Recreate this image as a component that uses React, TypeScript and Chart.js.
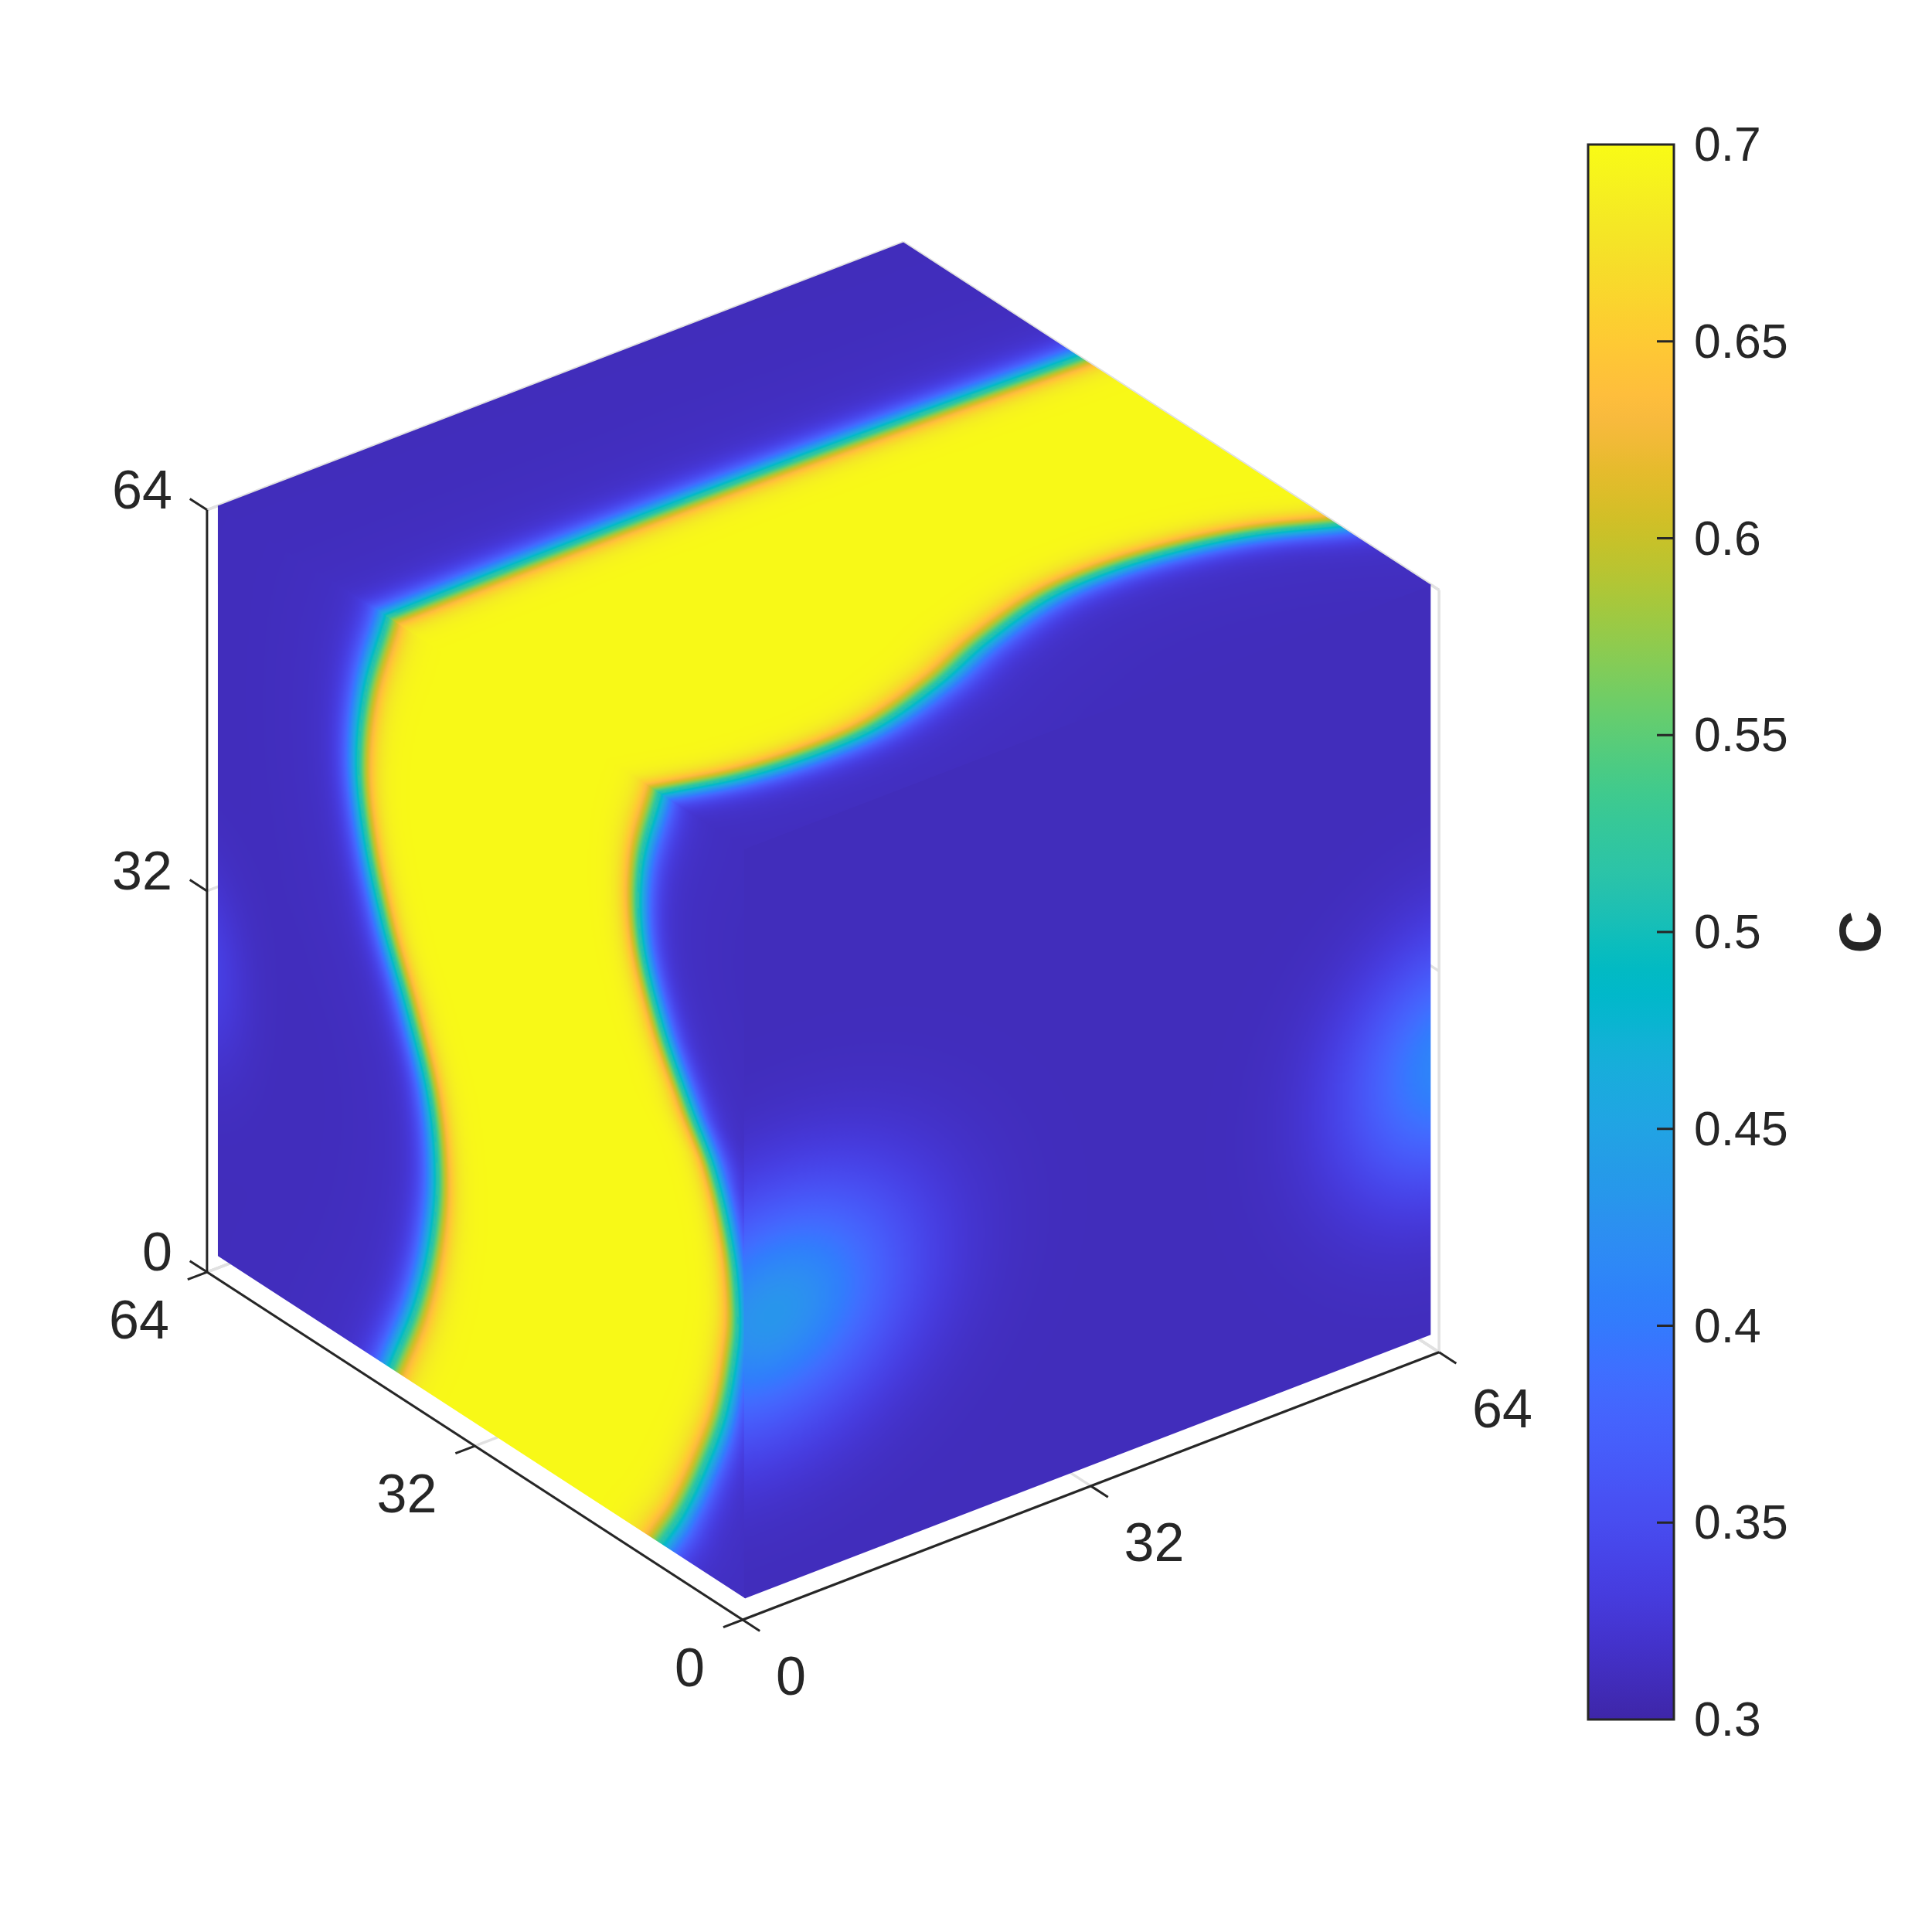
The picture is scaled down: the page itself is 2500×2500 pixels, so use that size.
import React, { useEffect, useRef } from "react";
import { Chart, registerables } from "chart.js";

Chart.register(...registerables);

// ---- Data ----
const axisTicks = [0, 32, 64];
const axisTickLabels = ["0", "32", "64"];
const colorbarTicks = [0.3, 0.35, 0.4, 0.45, 0.5, 0.55, 0.6, 0.65, 0.7];
const colorbarTitle = "C";

// x = 1 face: the yellow band between two interfaces, as y position for each z
const leftFaceZLow = [1.1, 4.5, 9.2, 15.2, 21.5, 24.8, 29.5, 35.2, 39.25, 44.6, 50.8, 56.9, 64];
const leftFaceYLow = [11, 8.7, 6.2, 3.6, 2.1, 1.9, 2.6, 4.8, 7.7, 11.1, 13.5, 13.5, 11.2];
const leftFaceZHigh = [1.3, 7.6, 13.6, 19.6, 25.9, 32, 37.95, 44.2, 50, 56.6, 64];
const leftFaceYHigh = [43.2, 40.3, 38.5, 37.8, 38.66, 41.16, 44.1, 46.3, 47.2, 46.3, 43.67];

// z = 64 face: the same band, as y position for each x
const topFaceXLow = [1, 7, 13.3, 19.3, 26.7, 33.3, 40.7, 46.7, 52.9, 58.5, 64];
const topFaceYLow = [11.2, 9.5, 8.86, 9.26, 11.5, 14.3, 16.55, 16.95, 16.2, 14.65, 12];
const topFaceXHigh = [1, 16.4, 33.4, 50, 64];
const topFaceYHigh = [43.7, 43.9, 43.8, 43.4, 42.9];

// diffuse spots: [centre u, centre v, rise of C, spread u, spread v]
const rightFaceSpots = [
  [3.6, 24, 0.122, 8.5, 7],
  [66, 23.4, 0.105, 6.8, 7],
];
const leftFaceSpots = [[66, 24.7, 0.03, 3.5, 5.5]];

const phaseLow = 0.31;
const phaseHigh = 0.698;

const parula = [
  [.2422,.1504,.6603],[.2504,.165,.7076],[.2578,.1818,.7511],[.2647,.1978,.7952],[.2706,.2147,.8364],[.2751,.2342,.871],
  [.2783,.2559,.8991],[.2803,.2782,.9221],[.2813,.3006,.9414],[.281,.3228,.9579],[.2795,.3447,.9717],[.276,.3667,.9829],
  [.2699,.3892,.9906],[.2602,.4123,.9952],[.244,.4358,.9988],[.2206,.4603,.9973],[.1963,.4847,.9892],[.1834,.5074,.9798],
  [.1786,.5289,.9682],[.1764,.5499,.952],[.1687,.5703,.9359],[.154,.5902,.9218],[.146,.6091,.9079],[.138,.6276,.8973],
  [.1248,.6459,.8883],[.1113,.6635,.8763],[.0952,.6798,.8598],[.0689,.6948,.8394],[.0297,.7082,.8163],[.0036,.7203,.7917],
  [.0067,.7312,.766],[.0433,.7411,.7394],[.0964,.75,.712],[.1408,.7584,.6842],[.1717,.767,.6554],[.1938,.7758,.6251],
  [.2161,.7843,.5923],[.247,.7918,.5567],[.2906,.7973,.5188],[.3406,.8008,.4789],[.3909,.8029,.4354],[.4456,.8024,.3909],
  [.5044,.7993,.348],[.5616,.7942,.3045],[.6174,.7876,.2612],[.672,.7793,.2227],[.7242,.7698,.191],[.7738,.7598,.1646],
  [.8203,.7498,.1535],[.8634,.7406,.1596],[.9035,.733,.1774],[.9393,.7288,.21],[.9728,.7298,.2394],[.9956,.7434,.2371],
  [.997,.7659,.2199],[.9952,.7893,.2028],[.9892,.8136,.1885],[.9786,.8386,.1766],[.9676,.8639,.1643],[.961,.889,.1537],
  [.9597,.9135,.1423],[.9628,.9373,.1265],[.9691,.9606,.1064],[.9769,.9839,.0805],
];

// ---- Styles and view ----
const INK = "#262626";
const GRID = "#e1e1e1";
const FONT = '"Liberation Sans", Arial, sans-serif';
const VIEW = { ox: 961, oy: 2096, xx: 14.08, xy: -5.41, yx: -10.83, yy: -7.03, zy: -15.41 };
const RES = 420;
const FACE_LO = 0.9;
const FACE_HI = 64.1;
const INTERFACE_WIDTH = 1.85;

const cmin = 0.3, cmax = 0.7;
const along = (k: number) => FACE_LO + ((k + 0.5) / RES) * (FACE_HI - FACE_LO);

function rgbFor(c: number) {
  const t = Math.max(0, Math.min(1, (c - cmin) / (cmax - cmin))) * (parula.length - 1);
  const i = Math.min(parula.length - 2, Math.floor(t));
  const f = t - i;
  const a = parula[i], b = parula[i + 1];
  return [0, 1, 2].map((k) => Math.round(255 * (a[k] + (b[k] - a[k]) * f)));
}

function project(x: number, y: number, z: number) {
  return {
    x: VIEW.ox + VIEW.xx * x + VIEW.yx * y,
    y: VIEW.oy + VIEW.xy * x + VIEW.yy * y + VIEW.zy * z,
  };
}

// Smooth curve through the read points: position and slope factor
function curveTable(ts: number[], vs: number[]) {
  const n = ts.length;
  const m = ts.map((_, i) => {
    if (i === 0) return (vs[1] - vs[0]) / (ts[1] - ts[0]);
    if (i === n - 1) return (vs[n - 1] - vs[n - 2]) / (ts[n - 1] - ts[n - 2]);
    return (vs[i + 1] - vs[i - 1]) / (ts[i + 1] - ts[i - 1]);
  });
  const at = (t: number) => {
    if (t <= ts[0]) return vs[0] + (t - ts[0]) * m[0];
    if (t >= ts[n - 1]) return vs[n - 1] + (t - ts[n - 1]) * m[n - 1];
    let i = 0;
    while (t > ts[i + 1]) i++;
    const h = ts[i + 1] - ts[i], s = (t - ts[i]) / h;
    const s2 = s * s, s3 = s2 * s;
    return (2 * s3 - 3 * s2 + 1) * vs[i] + (s3 - 2 * s2 + s) * h * m[i] + (-2 * s3 + 3 * s2) * vs[i + 1] + (s3 - s2) * h * m[i + 1];
  };
  return (t: number) => {
    const v = at(t);
    const d = (at(t + 0.2) - at(t - 0.2)) / 0.4;
    return [v, Math.sqrt(1 + d * d)];
  };
}

function spotSum(u: number, v: number, spots: number[][]) {
  let s = 0;
  for (const [cu, cv, a, su, sv] of spots) {
    s += a * Math.exp(-((u - cu) ** 2) / (2 * su * su) - ((v - cv) ** 2) / (2 * sv * sv));
  }
  return s;
}

function bandValue(d: number) {
  const mid = (phaseLow + phaseHigh) / 2, half = (phaseHigh - phaseLow) / 2;
  const tail = d < 0 ? 0.014 * Math.exp(d / 5) : 0;
  return mid + half * Math.tanh(d / INTERFACE_WIDTH) + tail;
}

function bandField(tsLow: number[], vsLow: number[], tsHigh: number[], vsHigh: number[], spots: number[][]) {
  const low = curveTable(tsLow, vsLow), high = curveTable(tsHigh, vsHigh);
  const lowRows = new Float64Array(2 * RES), highRows = new Float64Array(2 * RES);
  for (let k = 0; k < RES; k++) {
    const t = along(k);
    const a = low(t), b = high(t);
    lowRows[2 * k] = a[0]; lowRows[2 * k + 1] = a[1];
    highRows[2 * k] = b[0]; highRows[2 * k + 1] = b[1];
  }
  return (i: number, j: number) => {
    const y = along(j), t = along(i);
    const d = Math.min((y - lowRows[2 * i]) / lowRows[2 * i + 1], (highRows[2 * i] - y) / highRows[2 * i + 1]);
    return bandValue(d) + spotSum(y, t, spots);
  };
}

function makeLayer(value: (col: number, row: number) => number) {
  const c = document.createElement("canvas");
  c.width = RES; c.height = RES;
  const g = c.getContext("2d")!;
  const img = g.createImageData(RES, RES);
  for (let r = 0; r < RES; r++) for (let q = 0; q < RES; q++) {
    const [R, G, B] = rgbFor(value(q, r));
    const p = 4 * (r * RES + q);
    img.data[p] = R; img.data[p + 1] = G; img.data[p + 2] = B; img.data[p + 3] = 255;
  }
  g.putImageData(img, 0, 0);
  return c;
}

const segment = (a: number[], b: number[], color: string, width: number) => ({
  data: [project(a[0], a[1], a[2]), project(b[0], b[1], b[2])],
  showLine: true, pointRadius: 0, borderColor: color, borderWidth: width, borderCapStyle: "butt", fill: false,
});

function mainDatasets() {
  const ink: any[] = [
    segment([0, 0, 0], [64, 0, 0], INK, 3),
    segment([0, 0, 0], [0, 64, 0], INK, 3),
    segment([0, 64, 0], [0, 64, 64], INK, 3),
  ];
  const grid: any[] = [
    segment([64, 0, 0], [64, 0, 64], GRID, 3.5),
    segment([0, 64, 0], [64, 64, 0], GRID, 3.5),
    segment([64, 0, 0], [64, 64, 0], GRID, 3.5),
    segment([0, 64, 64], [64, 64, 64], GRID, 3.5),
    segment([64, 64, 64], [64, 0, 64], GRID, 3.5),
  ];
  for (const t of axisTicks) {
    ink.push(segment([t, 0, 0], [t, -2.05, 0], INK, 3));
    ink.push(segment([0, t, 0], [-1.78, t, 0], INK, 3));
    ink.push(segment([0, 64, t], [0, 66.05, t], INK, 3));
    grid.push(segment([t, 0, 0], [t, 64, 0], GRID, 3.5));
    grid.push(segment([0, t, 0], [64, t, 0], GRID, 3.5));
    grid.push(segment([0, 64, t], [64, 64, t], GRID, 3.5));
    grid.push(segment([64, 0, t], [64, 64, t], GRID, 3.5));
  }
  return [...ink, ...grid];
}

const cubePlugin = {
  id: "cubeFaces",
  afterDatasetsDraw(chart: any) {
    const { ctx, scales } = chart;
    const px = (p: { x: number; y: number }) => ({ x: scales.x.getPixelForValue(p.x), y: scales.y.getPixelForValue(p.y) });
    const P = (x: number, y: number, z: number) => px(project(x, y, z));

    const outline = [P(1, 64, 64), P(64, 64, 64), P(64, 1, 64), P(64, 1, 1), P(1, 1, 1), P(1, 64, 1)];
    const drawFace = (layer: HTMLCanvasElement, o: any, ue: any, ve: any) => {
      ctx.save();
      ctx.transform((ue.x - o.x) / RES, (ue.y - o.y) / RES, (ve.x - o.x) / RES, (ve.y - o.y) / RES, o.x, o.y);
      ctx.imageSmoothingEnabled = true;
      ctx.imageSmoothingQuality = "high";
      ctx.drawImage(layer, 0, 0);
      ctx.restore();
    };

    const leftField = bandField(leftFaceZLow, leftFaceYLow, leftFaceZHigh, leftFaceYHigh, leftFaceSpots);
    const topField = bandField(topFaceXLow, topFaceYLow, topFaceXHigh, topFaceYHigh, []);
    const rightField = (col: number, row: number) => phaseLow + spotSum(along(col), along(row), rightFaceSpots);

    ctx.save();
    ctx.beginPath();
    outline.forEach((p, i) => (i ? ctx.lineTo(p.x, p.y) : ctx.moveTo(p.x, p.y)));
    ctx.closePath();
    ctx.clip();
    const lo = FACE_LO, hi = FACE_HI;
    drawFace(makeLayer((c, r) => leftField(r, c)), P(1, lo, lo), P(1, hi, lo), P(1, lo, hi));
    drawFace(makeLayer(rightField), P(lo, 1, lo), P(hi, 1, lo), P(lo, 1, hi));
    drawFace(makeLayer((c, r) => topField(r, c)), P(lo, lo, 64), P(lo, hi, 64), P(hi, lo, 64));
    ctx.restore();

    // tick labels
    ctx.save();
    ctx.fillStyle = INK;
    ctx.font = `70px ${FONT}`;
    ctx.textBaseline = "middle";
    axisTicks.forEach((t, i) => {
      const a = P(t, 0, 0);
      ctx.textAlign = "left";
      ctx.fillText(axisTickLabels[i], a.x + 43, a.y + 78);
      const b = P(0, t, 0);
      ctx.textAlign = "right";
      ctx.fillText(axisTickLabels[i], b.x - 49, b.y + 66.5);
      const c = P(0, 64, t);
      ctx.fillText(axisTickLabels[i], c.x - 45, c.y - 21.5);
    });
    ctx.restore();
  },
};

const colorbarPlugin = {
  id: "colorbarFrame",
  afterDatasetsDraw(chart: any) {
    const { ctx, chartArea: a, scales } = chart;
    ctx.save();
    ctx.strokeStyle = INK;
    ctx.lineWidth = 3;
    for (const t of colorbarTicks.slice(1, -1)) {
      const y = scales.y.getPixelForValue(t);
      ctx.beginPath();
      ctx.moveTo(a.right, y);
      ctx.lineTo(a.right - 22, y);
      ctx.stroke();
    }
    ctx.strokeRect(a.left, a.top, a.right - a.left, a.bottom - a.top);
    ctx.fillStyle = INK;
    ctx.font = `bold 76px ${FONT}`;
    ctx.textAlign = "center";
    ctx.textBaseline = "middle";
    ctx.translate(a.right + 246, (a.top + a.bottom) / 2);
    ctx.rotate(-Math.PI / 2);
    ctx.fillText(colorbarTitle, 0, 0);
    ctx.restore();
  },
};

export default function App() {
  const mainRef = useRef<HTMLCanvasElement>(null);
  const barRef = useRef<HTMLCanvasElement>(null);

  useEffect(() => {
    const main = new Chart(mainRef.current!, {
      type: "scatter",
      data: { datasets: mainDatasets() as any },
      options: {
        animation: false, responsive: false, maintainAspectRatio: false,
        layout: { padding: 0 },
        plugins: { legend: { display: false }, tooltip: { enabled: false } },
        scales: {
          x: { type: "linear", display: false, min: 0, max: 2500 },
          y: { type: "linear", display: false, min: 0, max: 2500, reverse: true },
        },
      },
      plugins: [cubePlugin],
    } as any);

    const bar = new Chart(barRef.current!, {
      type: "bar",
      data: {
        labels: [colorbarTitle],
        datasets: [{
          data: [[cmin, cmax]],
          barPercentage: 1, categoryPercentage: 1, borderWidth: 0, borderSkipped: false,
          backgroundColor: (ctx: any) => {
            const { chart } = ctx;
            if (!chart.chartArea) return "#000";
            const s = chart.scales.y;
            const g = chart.ctx.createLinearGradient(0, s.getPixelForValue(cmin), 0, s.getPixelForValue(cmax));
            parula.forEach((_, i) => {
              const f = i / (parula.length - 1);
              const [r, gg, b] = rgbFor(cmin + f * (cmax - cmin));
              g.addColorStop(f, `rgb(${r},${gg},${b})`);
            });
            return g;
          },
        }],
      },
      options: {
        animation: false, responsive: false, maintainAspectRatio: false,
        layout: { padding: { left: 55, top: 87, bottom: 75, right: 0 } },
        plugins: { legend: { display: false }, tooltip: { enabled: false } },
        scales: {
          x: { display: false },
          y: {
            position: "right", min: cmin, max: cmax,
            grid: { display: false, drawTicks: false }, border: { display: false },
            afterFit: (s: any) => { s.width = 334; },
            afterBuildTicks: (s: any) => { s.ticks = colorbarTicks.map((value) => ({ value })); },
            ticks: {
              autoSkip: false, maxRotation: 0, minRotation: 0, padding: 26, color: INK, labelOffset: 4,
              font: { family: FONT, size: 62.5 },
              callback: (v: any) => String(v),
            },
          },
        },
      },
      plugins: [colorbarPlugin],
    } as any);

    return () => { main.destroy(); bar.destroy(); };
  }, []);

  return (
    <div style={{ position: "absolute", left: 0, top: 0, width: 2500, height: 2500, overflow: "hidden", background: "#fff" }}>
      <canvas ref={mainRef} width={2500} height={2500} style={{ position: "absolute", left: 0, top: 0, width: 2500, height: 2500 }} />
      <canvas ref={barRef} width={500} height={2200} style={{ position: "absolute", left: 2000, top: 100, width: 500, height: 2200 }} />
    </div>
  );
}
